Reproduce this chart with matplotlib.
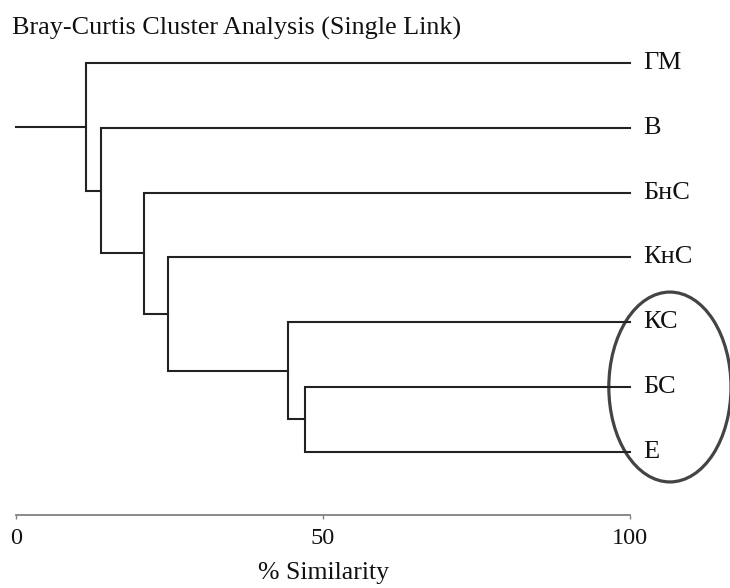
import matplotlib
matplotlib.use("Agg")
import matplotlib.pyplot as plt
from matplotlib.patches import Ellipse

plt.rcParams['font.family'] = ['Liberation Serif', 'DejaVu Serif']
plt.rcParams['font.size'] = 17

# leaves from top to bottom
labels = ['ГМ', 'В', 'БнС', 'КнС', 'КС', 'БС', 'Е']
# merges: (child a, child b, % similarity); "n0".. are the merged nodes
merge_a = ['БС', 'КС', 'КнС', 'БнС', 'В', 'ГМ']
merge_b = ['Е', 'n0', 'n1', 'n2', 'n3', 'n4']
merge_sim = [47.1, 44.3, 24.8, 20.8, 13.8, 11.4]
group = ['КС', 'БС', 'Е']  # circled cluster

ticks = [0, 50, 100]
line_c = '#222222'
text_c = '#111111'

fig = plt.figure(figsize=(7.3, 5.88), dpi=100)
ax = fig.add_axes([16 / 730, 1 - 515 / 588, 614 / 730, (515 - 40) / 588])

pos = {lab: (100.0, float(i)) for i, lab in enumerate(labels)}
for k, (a, b, s) in enumerate(zip(merge_a, merge_b, merge_sim)):
    xa, ya = pos[a]
    xb, yb = pos[b]
    ax.plot([xa, s, s, xb], [ya, ya, yb, yb], color=line_c, lw=1.5,
            solid_joinstyle='miter', clip_on=False)
    pos['n%d' % k] = (s, (ya + yb) / 2)

# root stub
rx, ry = pos['n%d' % (len(merge_sim) - 1)]
ax.plot([0, rx], [ry, ry], color=line_c, lw=1.5, clip_on=False)

for i, lab in enumerate(labels):
    ax.annotate(lab, (100, i), xytext=(13, 0), textcoords='offset pixels',
                ha='left', va='center', fontsize=19, color=text_c)

# ellipse around the group
gy = [labels.index(g) for g in group]
ell = Ellipse((106.5, sum(gy) / len(gy)), width=19.9, height=2.93,
              fill=False, edgecolor='#444444', lw=2.3, clip_on=False)
ax.add_patch(ell)

ax.set_xlim(0, 100)
ax.set_ylim((515 - 63) / 64.8, (40 - 63) / 64.8)
for sp in ['top', 'right', 'left']:
    ax.spines[sp].set_visible(False)
ax.spines['bottom'].set_color('#808080')
ax.spines['bottom'].set_linewidth(1.3)
ax.set_yticks([])
ax.set_xticks(ticks)
ax.tick_params(axis='x', length=3, width=1, color='#808080', pad=6,
               labelsize=17.5, labelcolor=text_c)
ax.set_xlabel('% Similarity', fontsize=18.5, labelpad=10, color=text_c)

fig.text(12 / 730, 1 - 28 / 588, 'Bray-Curtis Cluster Analysis (Single Link)',
         ha='left', va='center', fontsize=18.8, color=text_c)

fig.savefig('out.png', dpi=100)
